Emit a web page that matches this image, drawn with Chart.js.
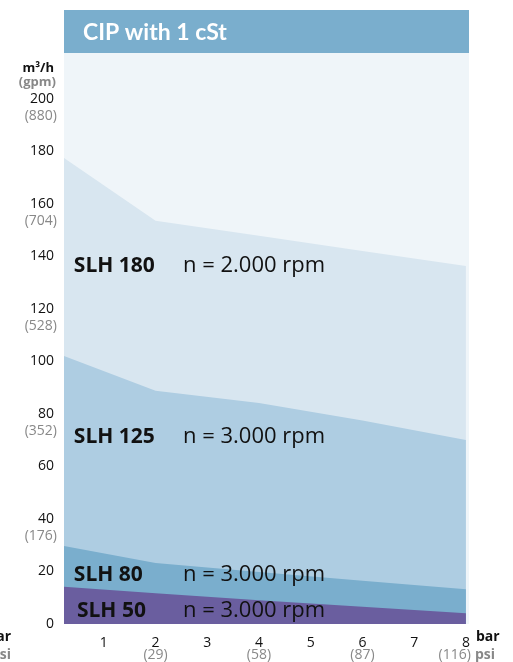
<!DOCTYPE html>
<html>
<head>
<meta charset="utf-8">
<script src="https://cdn.jsdelivr.net/npm/chart.js@4.4.1/dist/chart.umd.min.js"></script>
<style>
  html, body { margin: 0; padding: 0; background: #fff; }
  #wrap { width: 513px; height: 662px; }
</style>
</head>
<body>
<div id="wrap"><canvas id="cip"></canvas></div>
<script>
// pressure points (bar) where the curves are read
const pressureBar = [0.23, 2, 4, 6, 8];

// flow in m3/h per pump
const slh180 = [177.5, 153.6, 147.9, 142.1, 136.4];
const slh125 = [102.1, 88.8, 84.2, 77.5, 70.1];
const slh80 = [29.7, 23.2, 19.8, 16.5, 13.2];
const slh50 = [14.2, 11.7, 9.0, 6.6, 4.1];

const seriesNames = ["SLH 50", "SLH 80", "SLH 125", "SLH 180"];
const seriesSpeeds = ["n = 3.000 rpm", "n = 3.000 rpm", "n = 3.000 rpm", "n = 2.000 rpm"];
const labelFlow = [5.0, 18.7, 71.4, 136.5];

// axis ticks
const barTicks = [1, 2, 3, 4, 5, 6, 7, 8];
const flowTicks = [0, 20, 40, 60, 80, 100, 120, 140, 160, 180, 200];
const psiTicks = { 2: "(29)", 4: "(58)", 6: "(87)", 8: "(116)" };
const gpmTicks = { 40: "(176)", 80: "(352)", 120: "(528)", 160: "(704)", 200: "(880)" };

const colors = ["#6a5e9f", "#7aaecd", "#aecde2", "#d8e6f0"];
const allSeries = [slh50, slh80, slh125, slh180];

const pts = arr => arr.map((v, i) => ({ x: pressureBar[i], y: v }));

const decor = {
    id: "decor",
    beforeDraw(chart) {
        const { ctx, chartArea: a } = chart;
        ctx.save();
        ctx.fillStyle = "#eff5f9";
        ctx.fillRect(a.left, a.top, a.right - a.left, a.bottom - a.top);
        ctx.fillStyle = "#7aaecd";
        ctx.fillRect(a.left, 10, a.right - a.left, a.top - 10);
        ctx.fillStyle = "#fff";
        ctx.font = "bold 23px Lato";
        ctx.textBaseline = "alphabetic";
        ctx.fillText("CIP with 1 cSt", 83, 40);
        ctx.restore();
    },
    afterDraw(chart) {
        const { ctx } = chart;
        const xs = chart.scales.x, ys = chart.scales.y;
        ctx.save();
        ctx.textBaseline = "middle";

        // unit labels
        ctx.textAlign = "right";
        ctx.font = "bold 13px 'Open Sans'";
        ctx.fillStyle = "#111";
        ctx.fillText("m³/h", 54, 68);
        ctx.fillStyle = "#888";
        ctx.fillText("(gpm)", 56, 82);

        ctx.font = "14px 'Open Sans'";
        for (const v in gpmTicks) {
            ctx.fillText(gpmTicks[v], 57, ys.getPixelForValue(+v) + 17);
        }
        for (const v in psiTicks) {
            const px = xs.getPixelForValue(+v);
            if (+v === 8) {
                ctx.textAlign = "right";
                ctx.fillText(psiTicks[v], px + 5, 655);
            } else {
                ctx.textAlign = "center";
                ctx.fillText(psiTicks[v], px, 655);
            }
        }

        // bar / psi units
        ctx.font = "bold 14px 'Open Sans'";
        ctx.fillStyle = "#111";
        ctx.textAlign = "left";
        ctx.fillText("bar", 476, 637);
        ctx.textAlign = "right";
        ctx.fillText("bar", 11, 637);
        ctx.fillStyle = "#888";
        ctx.textAlign = "left";
        ctx.fillText("psi", 475, 655);
        ctx.textAlign = "right";
        ctx.fillText("psi", 11, 655);

        // series labels
        ctx.fillStyle = "#111";
        ctx.textAlign = "left";
        seriesNames.forEach((n, i) => {
            const y = ys.getPixelForValue(labelFlow[i]);
            ctx.font = "bold 21px 'Open Sans'";
            ctx.fillText(n, xs.getPixelForValue(i === 0 ? 0.48 : 0.42), y);
            ctx.font = "22px 'Open Sans'";
            ctx.fillText(seriesSpeeds[i], xs.getPixelForValue(2.53), y);
        });
        ctx.restore();
    }
};

new Chart(document.getElementById("cip"), {
    type: "line",
    data: {
        datasets: allSeries.map((s, i) => ({
            label: seriesNames[i],
            data: pts(s),
            backgroundColor: colors[i],
            borderWidth: 0,
            pointRadius: 0,
            tension: 0,
            fill: "origin"
        }))
    },
    options: {
        responsive: true,
        maintainAspectRatio: false,
        animation: false,
        layout: { padding: { top: 53, right: 44, left: 0, bottom: 0 } },
        plugins: { legend: { display: false }, tooltip: { enabled: false } },
        scales: {
            x: {
                type: "linear",
                min: 0.23,
                max: 8.06,
                grid: { display: false },
                border: { display: false },
                afterBuildTicks: s => { s.ticks = barTicks.map(v => ({ value: v })); },
                afterFit: s => { s.height = 38; },
                ticks: {
                    color: "#111",
                    font: { family: "'Open Sans'", size: 14 },
                    padding: 3,
                    maxRotation: 0
                }
            },
            y: {
                min: 0,
                max: 217.5,
                grid: { display: false, drawTicks: false },
                border: { display: false },
                afterBuildTicks: s => { s.ticks = flowTicks.map(v => ({ value: v })); },
                afterFit: s => { s.width = 64; },
                ticks: {
                    color: "#111",
                    font: { family: "'Open Sans'", size: 14 },
                    padding: 10
                }
            }
        }
    },
    plugins: [decor]
});
</script>
</body>
</html>
